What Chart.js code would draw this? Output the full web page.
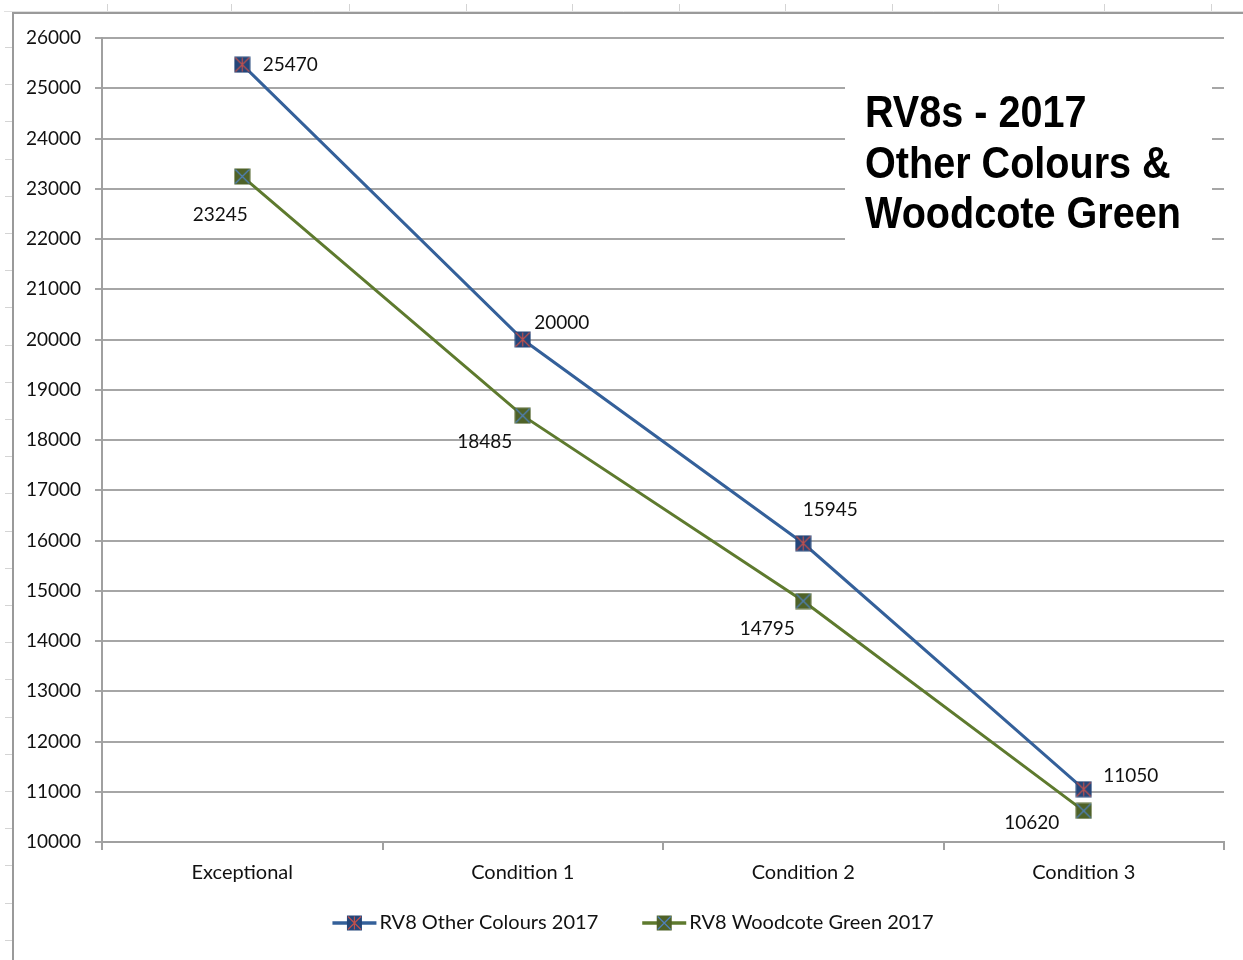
<!DOCTYPE html>
<html><head><meta charset="utf-8">
<script src="https://cdn.jsdelivr.net/npm/chart.js@4.4.1/dist/chart.umd.min.js"></script>
<style>html,body{margin:0;padding:0;background:#fff;} canvas{display:block;}</style>
</head><body>
<canvas id="c" width="1243" height="960"></canvas>
<script>
// ---- data ----
const categories = ['Exceptional', 'Condition 1', 'Condition 2', 'Condition 3'];
const otherColours = [25470, 20000, 15945, 11050];
const woodcoteGreen = [23245, 18485, 14795, 10620];
const seriesNames = ['RV8 Other Colours 2017', 'RV8 Woodcote Green 2017'];
const titleLines = ['RV8s - 2017', 'Other Colours &', 'Woodcote Green'];
const yMin = 10000, yMax = 26000, yStep = 1000;

// ---- styles ----
const FONT = 'Lato, "DejaVu Sans", sans-serif';
const TEXT = '#111111';
const blueLine = '#34609a', greenLine = '#5e7a2e';
const blueFill = '#24467a', greenFill = '#4f6228';

function drawMarker(ctx, cx, cy, s, fill, crossColor, star) {
  const h = s / 2;
  ctx.fillStyle = fill;
  ctx.fillRect(cx - h, cy - h, s, s);
  ctx.strokeStyle = crossColor;
  ctx.lineWidth = 1.2;
  ctx.beginPath();
  ctx.moveTo(cx - h + 1, cy - h + 1); ctx.lineTo(cx + h - 1, cy + h - 1);
  ctx.moveTo(cx + h - 1, cy - h + 1); ctx.lineTo(cx - h + 1, cy + h - 1);
  if (star) { ctx.moveTo(cx, cy - h + 1); ctx.lineTo(cx, cy + h - 1); }
  ctx.stroke();
}
function makeMarker(fill, crossColor, star) {
  const c = document.createElement('canvas');
  c.width = 17; c.height = 17;
  drawMarker(c.getContext('2d'), 8.5, 8.5, 16, fill, crossColor, star);
  return c;
}
const blueMarker = makeMarker(blueFill, '#c0504d', true);
const greenMarker = makeMarker(greenFill, '#4f81bd', false);

// frame plugin (spreadsheet edge)
const frameTicksTop = [107, 231, 349, 466, 572, 679, 785, 892, 998, 1104, 1211];
const framePlugin = {
  id: 'frame',
  afterDraw(chart) {
    const ctx = chart.ctx;
    ctx.save();
    ctx.strokeStyle = '#d4d4d4';
    ctx.lineWidth = 1;
    frameTicksTop.forEach(x => { ctx.beginPath(); ctx.moveTo(x + 0.5, 4); ctx.lineTo(x + 0.5, 11); ctx.stroke(); });
    for (let y = 47; y < 960; y += 37.2) { ctx.beginPath(); ctx.moveTo(5, Math.round(y) + 0.5); ctx.lineTo(12, Math.round(y) + 0.5); ctx.stroke(); }
    ctx.strokeStyle = '#e0e0e0';
    ctx.beginPath(); ctx.moveTo(4, 11.5); ctx.lineTo(1243, 11.5); ctx.stroke();
    ctx.strokeStyle = '#9a9a9a';
    ctx.lineWidth = 2;
    ctx.beginPath(); ctx.moveTo(13, 960); ctx.lineTo(13, 13); ctx.lineTo(1243, 13); ctx.stroke();
    ctx.restore();
  }
};

// title box plugin
const titlePlugin = {
  id: 'titleBox',
  beforeDatasetsDraw(chart) {
    const ctx = chart.ctx;
    ctx.save();
    ctx.fillStyle = '#ffffff';
    ctx.fillRect(845, 78, 367, 172);
    ctx.fillStyle = '#000000';
    ctx.font = 'bold 39.6px "Liberation Sans", Arial, sans-serif';
    ctx.textAlign = 'left';
    ctx.textBaseline = 'alphabetic';
    titleLines.forEach((t, i) => {
      ctx.save();
      ctx.translate(865, 127 + i * 50.5);
      ctx.scale(1, 1.12);
      ctx.fillText(t, 0, 0);
      ctx.restore();
    });
    ctx.restore();
  }
};

// data label plugin
const labelPlugin = {
  id: 'valueLabels',
  afterDatasetsDraw(chart, args, opts) {
    const ctx = chart.ctx;
    ctx.save();
    ctx.font = '19px ' + FONT;
    ctx.fillStyle = TEXT;
    ctx.textAlign = 'center';
    ctx.textBaseline = 'middle';
    chart.data.datasets.forEach((ds, di) => {
      const meta = chart.getDatasetMeta(di);
      meta.data.forEach((pt, i) => {
        const off = opts.offsets[di][i];
        ctx.fillText(String(ds.data[i]), pt.x + off[0], pt.y + off[1]);
      });
    });
    ctx.restore();
  }
};

// legend plugin
const legendPlugin = {
  id: 'customLegend',
  afterDraw(chart) {
    const ctx = chart.ctx;
    ctx.save();
    ctx.font = '20px ' + FONT;
    const symW = 44, gapText = 3, gapItem = 44;
    const widths = chart.data.datasets.map(ds => symW + gapText + ctx.measureText(ds.label).width);
    const total = widths.reduce((a, b) => a + b, 0) + gapItem * (widths.length - 1);
    let x = 633 - total / 2;
    const y = 923;
    const fills = [blueFill, greenFill], crosses = ['#c0504d', '#4f81bd'];
    chart.data.datasets.forEach((ds, i) => {
      ctx.strokeStyle = ds.borderColor;
      ctx.lineWidth = 3.5;
      ctx.beginPath(); ctx.moveTo(x, y); ctx.lineTo(x + symW, y); ctx.stroke();
      drawMarker(ctx, x + symW / 2, y, 15, fills[i], crosses[i], i === 0);
      ctx.fillStyle = TEXT;
      ctx.textAlign = 'left';
      ctx.textBaseline = 'middle';
      ctx.fillText(ds.label, x + symW + gapText, y);
      x += widths[i] + gapItem;
    });
    ctx.restore();
  }
};

new Chart(document.getElementById('c'), {
  type: 'line',
  data: {
    labels: categories,
    datasets: [
      { label: seriesNames[0], data: otherColours, borderColor: blueLine, borderWidth: 3, pointStyle: blueMarker, pointRadius: 8, pointHoverRadius: 8, tension: 0, fill: false },
      { label: seriesNames[1], data: woodcoteGreen, borderColor: greenLine, borderWidth: 3, pointStyle: greenMarker, pointRadius: 8, pointHoverRadius: 8, tension: 0, fill: false }
    ]
  },
  options: {
    responsive: false,
    animation: false,
    devicePixelRatio: 1,
    layout: { padding: { left: 0, top: 38, right: 19, bottom: 56 } },
    plugins: {
      legend: { display: false },
      tooltip: { enabled: false },
      title: { display: false },
      valueLabels: {
        offsets: [
          [[48, 0], [39, -17], [27, -33], [47, -13]],
          [[-22, 38], [-38, 26], [-36, 28], [-52, 12]]
        ]
      }
    },
    scales: {
      x: {
        offset: true,
        grid: { offset: true, drawOnChartArea: false, drawTicks: true, tickLength: 8, color: '#a0a0a0', lineWidth: 2 },
        border: { display: true, color: '#a0a0a0', width: 2 },
        ticks: { font: { family: FONT, size: 20 }, color: TEXT, padding: 11, maxRotation: 0 },
        afterFit: s => { s.height = 62; }
      },
      y: {
        min: yMin, max: yMax,
        ticks: { stepSize: yStep, font: { family: FONT, size: 19 }, color: TEXT, padding: 14, callback: v => String(v) },
        grid: { color: '#a6a6a6', lineWidth: 2, tickLength: 7 },
        border: { display: true, color: '#a0a0a0', width: 2 },
        afterFit: s => { s.width = 102; }
      }
    }
  },
  plugins: [framePlugin, titlePlugin, labelPlugin, legendPlugin]
});
</script>
</body></html>
